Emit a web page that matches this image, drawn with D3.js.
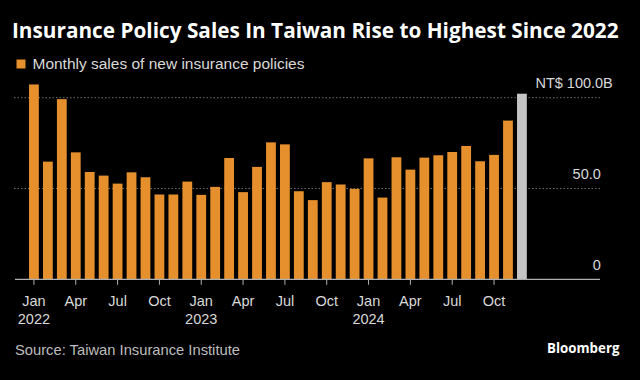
<!DOCTYPE html>
<html>
<head>
<meta charset="utf-8">
<script src="https://cdn.jsdelivr.net/npm/d3@7"></script>
<style>
  html, body { margin: 0; padding: 0; background: #000; }
  svg { display: block; }
</style>
</head>
<body>
<svg id="chart" width="640" height="380"></svg>
<script>
// ---- Data ----
const months = [
  "2022-01","2022-02","2022-03","2022-04","2022-05","2022-06","2022-07","2022-08","2022-09","2022-10","2022-11","2022-12",
  "2023-01","2023-02","2023-03","2023-04","2023-05","2023-06","2023-07","2023-08","2023-09","2023-10","2023-11","2023-12",
  "2024-01","2024-02","2024-03","2024-04","2024-05","2024-06","2024-07","2024-08","2024-09","2024-10","2024-11","2024-12"
];
// Monthly sales of new insurance policies (NT$ billions)
const sales = [
  107.3, 64.8, 99.2, 69.9, 59.1, 57.1, 52.7, 58.9, 56.2, 46.7, 46.7, 53.8,
  46.5, 50.9, 66.8, 48.0, 61.9, 75.4, 74.3, 48.5, 43.6, 53.5, 52.2, 49.8,
  66.6, 45.0, 67.2, 60.4, 67.0, 68.3, 70.1, 73.4, 65.0, 68.5, 87.4, 102.2
];
const highlightMonth = "2024-12";
const tickMonths = ["2022-01","2022-04","2022-07","2022-10","2023-01","2023-04","2023-07","2023-10","2024-01","2024-04","2024-07","2024-10"];
const monthNames = ["Jan","Feb","Mar","Apr","May","Jun","Jul","Aug","Sep","Oct","Nov","Dec"];
const yTicks = [0, 50, 100];
const yTickLabels = ["0", "50.0", "NT$ 100.0B"];
const title = "Insurance Policy Sales In Taiwan Rise to Highest Since 2022";
const legendLabel = "Monthly sales of new insurance policies";
const source = "Source: Taiwan Insurance Institute";

// ---- Layout ----
const svg = d3.select("#chart");
const plotLeft = 14, plotRight = 600;
const orange = "#e5902d", grey = "#c4c4c4";

const x = d3.scaleLinear().domain([-1.43, 40.6]).range([plotLeft, plotRight]);
const y = d3.scaleLinear().domain([0, 100]).range([279.3, 97.7]);
const barW = 9.8;
const idx = m => months.indexOf(m);

function fit(sel, width) {
  const node = sel.node();
  const fs = parseFloat(sel.attr("font-size"));
  const w = node.getComputedTextLength();
  sel.attr("font-size", (fs * width / w).toFixed(2));
  return sel;
}

// Title
fit(svg.append("text").attr("x", 12).attr("y", 37.7)
  .attr("font-family", "Open Sans, sans-serif").attr("font-weight", "bold")
  .attr("font-size", 17).attr("fill", "#ffffff").text(title), 607);

// Legend
svg.append("rect").attr("x", 16.5).attr("y", 59.5).attr("width", 9).attr("height", 9).attr("fill", orange);
fit(svg.append("text").attr("x", 32.5).attr("y", 69.3)
  .attr("font-family", "Liberation Sans, sans-serif").attr("font-size", 14)
  .attr("fill", "#d9d9d9").text(legendLabel), 272);

// Gridlines
svg.append("g").selectAll("line").data(yTicks.filter(v => v > 0)).join("line")
  .attr("x1", plotLeft).attr("x2", plotRight)
  .attr("y1", d => y(d)).attr("y2", d => y(d))
  .attr("stroke", "#707070").attr("stroke-width", 1).attr("stroke-dasharray", "1.5,2");

// Bars
svg.append("g").selectAll("rect").data(months).join("rect")
  .attr("x", (m, i) => x(i) - barW / 2)
  .attr("width", barW)
  .attr("y", (m, i) => y(sales[i]))
  .attr("height", (m, i) => y(0) - y(sales[i]))
  .attr("fill", m => m === highlightMonth ? grey : orange);

// X axis line and ticks
svg.append("line").attr("x1", 15).attr("x2", plotRight).attr("y1", y(0)).attr("y2", y(0))
  .attr("stroke", "#b0b0b0").attr("stroke-width", 1.2);
svg.append("g").selectAll("line").data(tickMonths).join("line")
  .attr("x1", m => x(idx(m))).attr("x2", m => x(idx(m)))
  .attr("y1", y(0)).attr("y2", y(0) + 5.5)
  .attr("stroke", "#b0b0b0").attr("stroke-width", 1);

const xl = svg.append("g").attr("font-family", "Liberation Sans, sans-serif")
  .attr("font-size", 14.5).attr("fill", "#d9d9d9").attr("text-anchor", "middle");
xl.selectAll("text.m").data(tickMonths).join("text").attr("class", "m")
  .attr("x", m => x(idx(m))).attr("y", 305.7)
  .text(m => monthNames[+m.slice(5, 7) - 1]);
xl.selectAll("text.yr").data(tickMonths.filter(m => m.endsWith("-01"))).join("text").attr("class", "yr")
  .attr("x", m => x(idx(m))).attr("y", 323.5)
  .text(m => m.slice(0, 4));

// Y labels (right)
svg.append("g").attr("font-family", "Liberation Sans, sans-serif").attr("font-size", 14.5)
  .attr("fill", "#d9d9d9").attr("text-anchor", "end")
  .selectAll("text").data(yTicks).join("text")
  .attr("x", (d, i) => i === 2 ? 612.8 : 600.8)
  .attr("y", d => y(d) - 9.6)
  .text((d, i) => yTickLabels[i]);

// Source & brand
fit(svg.append("text").attr("x", 15).attr("y", 355)
  .attr("font-family", "Liberation Sans, sans-serif").attr("font-size", 14)
  .attr("fill", "#bdbdbd").text(source), 225);
const b = svg.append("text").attr("x", 547).attr("y", 352.7)
  .attr("font-family", "Open Sans, sans-serif").attr("font-weight", "bold").attr("font-size", 14)
  .attr("fill", "#ffffff").text("Bloomberg");
fit(b, 72.5);
</script>
</body>
</html>
